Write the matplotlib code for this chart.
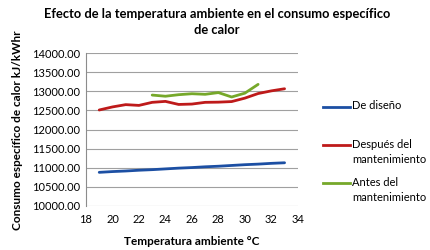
import matplotlib
matplotlib.use("Agg")
import matplotlib.pyplot as plt
from matplotlib.lines import Line2D

# data
temp_diseno = [19, 20, 21, 22, 23, 24, 25, 26, 27, 28, 29, 30, 31, 32, 33]
consumo_diseno = [10880, 10900, 10915, 10935, 10950, 10970, 10990, 11005,
                  11025, 11040, 11060, 11080, 11095, 11115, 11130]

temp_despues = [19, 20, 21, 22, 23, 24, 25, 26, 27, 28, 29, 30, 31, 32, 33]
consumo_despues = [12510, 12590, 12650, 12630, 12710, 12735, 12655, 12665,
                   12710, 12715, 12730, 12820, 12940, 13010, 13065]

temp_antes = [23, 24, 25, 26, 27, 28, 29, 30, 31]
consumo_antes = [12900, 12870, 12910, 12935, 12920, 12965, 12850, 12950, 13180]

x_ticks = [18, 20, 22, 24, 26, 28, 30, 32, 34]
y_ticks = [10000, 10500, 11000, 11500, 12000, 12500, 13000, 13500, 14000]

series = [
    (temp_diseno, consumo_diseno, '#1c4fa3', 'De diseño'),
    (temp_despues, consumo_despues, '#be1a1a', 'Después del\nmantenimiento'),
    (temp_antes, consumo_antes, '#76a82a', 'Antes del\nmantenimiento'),
]

plt.rcParams['font.family'] = ['Lato', 'DejaVu Sans']

fig = plt.figure(figsize=(4.31, 2.5), dpi=100)
ax = fig.add_axes([0.1995, 0.176, 0.4915, 0.612])

for xs, ys, col, lab in series:
    ax.plot(xs, ys, color=col, lw=2, solid_joinstyle='round', solid_capstyle='round')

ax.set_xlim(18, 34)
ax.set_ylim(10000, 14000)
ax.set_xticks(x_ticks)
ax.set_yticks(y_ticks)
ax.set_yticklabels([f"{v:.2f}" for v in y_ticks])
ax.tick_params(length=0, labelsize=8, pad=4)
ax.tick_params(axis='x', pad=6)
ax.grid(axis='y', color='#a0a0a0', lw=0.8)
ax.set_axisbelow(True)
for s in ['top', 'right', 'bottom']:
    ax.spines[s].set_visible(False)
ax.spines['left'].set_color('#8c8c8c')
ax.spines['left'].set_linewidth(0.8)

ax.set_xlabel('Temperatura ambiente °C', fontsize=8.5, fontweight='bold', labelpad=8)
fig.text(0.04, 0.48, 'Consumo específico de calor kJ/kWhr', rotation=90,
         fontsize=8.5, fontweight='bold', ha='center', va='center')

fig.text(0.503, 0.912, 'Efecto de la temperatura ambiente en el consumo específico\nde calor',
         fontsize=9.3, fontweight='bold', ha='center', va='center', linespacing=1.45)

# legend drawn by hand to match the Excel spacing
W, H = 431, 250
legend_rows = [107, 145, 183]
for (xs, ys, col, lab), yy in zip(series, legend_rows):
    fy = 1 - yy / H
    fig.add_artist(Line2D([323 / W, 350 / W], [fy, fy], color=col, lw=2,
                          transform=fig.transFigure))
    # text nudged up so its first line sits on the handle
    fig.text(352 / W, fy + 6.5 / H, lab, fontsize=8, ha='left', va='top',
             linespacing=1.55, transform=fig.transFigure)

fig.savefig('out.png', dpi=100)
